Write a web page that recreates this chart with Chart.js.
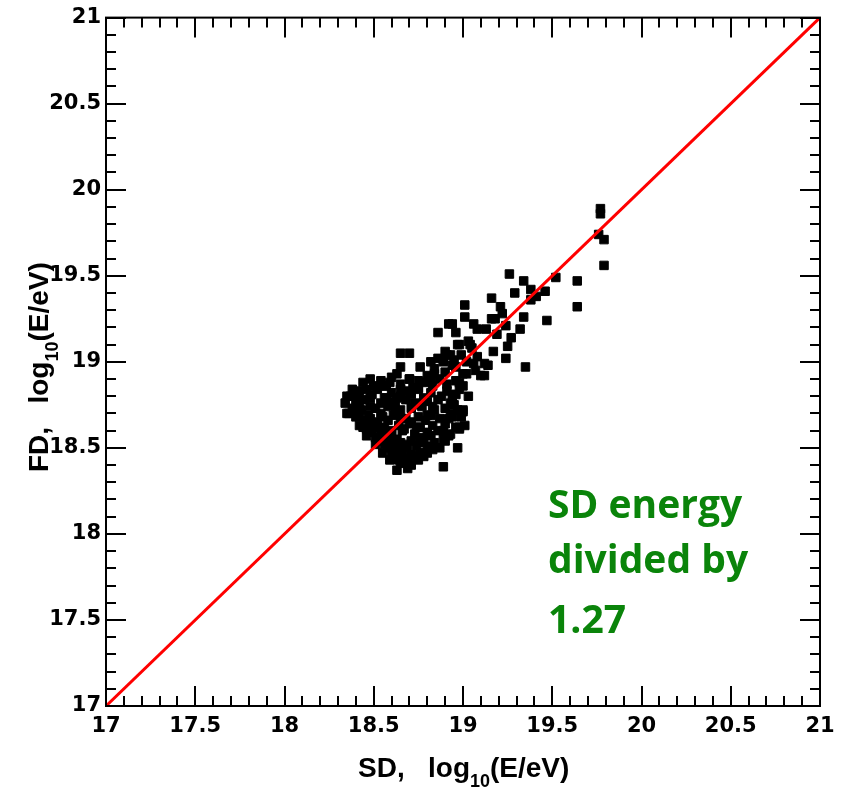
<!DOCTYPE html>
<html>
<head>
<meta charset="utf-8">
<title>SD vs FD energy</title>
<script src="https://cdn.jsdelivr.net/npm/chart.js@4.4.1/dist/chart.umd.min.js"></script>
<style>
  body { margin: 0; background: #fff; }
  canvas { display: block; }
</style>
</head>
<body>
<canvas id="energyChart" width="844" height="789"></canvas>
<script>
// SD energy (x) and FD energy (y), log10(E/eV)
var sdEnergy = [
  19.77, 19.77, 19.76, 19.79, 19.79, 19.64, 19.64, 19.52, 19.47, 19.46,
  19.41, 19.26, 19.34, 19.29, 19.38, 19.16, 19.21, 19.01, 19.01, 19.06,
  19.13, 19.18, 19.24, 19.34, 19.32, 19.27, 19.25, 19.24, 19.17, 19.12,
  19.06, 19.12, 19.35, 18.86, 18.92, 18.94, 18.96, 18.97, 19.03, 19.05,
  18.90, 18.65, 18.70, 18.65, 18.63, 18.89, 18.84, 18.82, 18.75, 19.22,
  19.16, 19.08, 19.19, 19.04, 19.10, 19.14, 19.00, 18.95, 18.91, 18.89,
  18.98, 18.80, 19.38, 18.48, 18.50, 18.38, 18.35, 18.34, 18.36, 18.46,
  18.48, 18.56, 18.65, 18.63, 18.42, 18.44, 18.46, 18.51, 18.55, 18.59,
  18.63, 18.69, 18.76, 18.80, 18.97, 18.89, 18.99, 19.00, 18.94, 18.84,
  18.82, 18.78,
  18.54, 18.59, 18.70, 18.79, 18.87, 18.96,
  18.42, 18.52, 18.60, 18.69, 18.75, 18.82, 18.91, 18.98,
  18.40, 18.45, 18.54, 18.60, 18.68, 18.73, 18.80, 18.86, 18.93,
  18.38, 18.43, 18.51, 18.58, 18.65, 18.71, 18.77, 18.84, 18.90, 18.97,
  18.40, 18.48, 18.55, 18.61, 18.68, 18.75, 18.82, 18.87, 18.94,
  18.42, 18.49, 18.56, 18.64, 18.70, 18.76, 18.83, 18.90, 18.96, 19.01,
  18.49, 18.54, 18.60, 18.66, 18.73, 18.80, 18.86, 18.93,
  18.54, 18.59, 18.65, 18.71, 18.78, 18.84, 18.90,
  18.58, 18.64, 18.69, 18.74, 18.83, 18.87,
  18.62, 18.68, 18.73,
  18.65, 18.71,
  18.82, 18.76, 18.90, 18.96, 18.93, 18.95, 19.00, 19.03, 18.98, 18.92,
  18.41, 18.44, 18.57, 18.60, 18.70, 18.72,
  18.56, 18.65, 18.75, 18.83, 18.91,
  18.37, 18.49, 18.57, 18.65, 18.71, 18.78, 18.88, 18.96,
  18.42, 18.48, 18.62, 18.75, 18.83, 18.94,
  18.35, 18.41, 18.47, 18.54, 18.62, 18.80, 18.93, 19.00,
  18.45, 18.52, 18.58, 18.65, 18.71, 18.79, 18.92,
  18.46, 18.52, 18.60, 18.67, 18.74, 18.89, 18.98,
  18.51, 18.57, 18.63, 18.76, 18.82, 18.89,
  18.56, 18.61, 18.68, 18.76, 18.80,
  18.60, 18.66, 18.71, 18.77,
  18.64, 18.69, 18.75,
  18.99, 19.02, 19.08, 18.94, 18.86, 19.02, 18.98, 19.07
];
var fdEnergy = [
  19.89, 19.86, 19.74, 19.71, 19.56, 19.47, 19.32, 19.49, 19.24, 19.41,
  19.38, 19.51, 19.47, 19.40, 19.36, 19.37, 19.32, 19.33, 19.26, 19.22,
  19.19, 19.25, 19.21, 19.26, 19.19, 19.14, 19.09, 19.02, 19.06, 18.99,
  18.99, 18.92, 18.97, 19.17, 19.22, 19.22, 19.17, 19.10, 19.12, 19.08,
  19.06, 19.05, 19.05, 18.97, 18.93, 19.01, 18.96, 18.91, 18.89, 19.28,
  19.25, 19.19, 19.16, 19.10, 18.92, 18.98, 18.93, 19.01, 19.04, 19.00,
  19.10, 18.92, 19.42, 18.90, 18.86, 18.84, 18.80, 18.76, 18.70, 18.84,
  18.79, 18.79, 18.84, 18.79, 18.68, 18.62, 18.57, 18.52, 18.47, 18.43,
  18.37, 18.38, 18.47, 18.47, 18.50, 18.39, 18.68, 18.86, 18.81, 18.93,
  18.50, 18.45,
  18.89, 18.88, 18.90, 18.88, 18.90, 18.89,
  18.83, 18.84, 18.82, 18.83, 18.84, 18.82, 18.83, 18.84,
  18.77, 18.78, 18.76, 18.77, 18.78, 18.76, 18.77, 18.78, 18.76,
  18.73, 18.72, 18.73, 18.74, 18.72, 18.73, 18.74, 18.72, 18.73, 18.72,
  18.68, 18.67, 18.68, 18.69, 18.67, 18.68, 18.69, 18.67, 18.68,
  18.63, 18.64, 18.62, 18.63, 18.64, 18.62, 18.63, 18.64, 18.62, 18.63,
  18.59, 18.58, 18.59, 18.60, 18.58, 18.59, 18.60, 18.58,
  18.54, 18.55, 18.53, 18.54, 18.55, 18.53, 18.54,
  18.50, 18.49, 18.50, 18.51, 18.49, 18.50,
  18.45, 18.44, 18.45,
  18.41, 18.40,
  19.00, 18.97, 18.94, 18.97, 19.04, 18.75, 18.72, 18.80, 18.62, 18.57,
  18.80, 18.88, 18.86, 18.91, 18.90, 18.85,
  18.86, 18.87, 18.85, 18.86, 18.87,
  18.80, 18.81, 18.79, 18.80, 18.81, 18.79, 18.80, 18.81,
  18.75, 18.74, 18.76, 18.75, 18.74, 18.76,
  18.70, 18.71, 18.69, 18.70, 18.71, 18.69, 18.70, 18.71,
  18.66, 18.65, 18.66, 18.67, 18.65, 18.66, 18.67,
  18.61, 18.62, 18.60, 18.61, 18.62, 18.60, 18.61,
  18.56, 18.57, 18.55, 18.56, 18.57, 18.55,
  18.52, 18.51, 18.52, 18.53, 18.51,
  18.47, 18.48, 18.46, 18.47,
  18.43, 18.42, 18.43,
  19.04, 19.00, 19.03, 18.98, 19.02, 18.93, 18.88, 18.95
];
// SD = FD reference line
var lineSD = [17, 21];
var lineFD = [17, 21];

var axisMin = 17;
var axisMax = 21;
var tickStep = 0.5;
var minorStep = 0.1;

var noteLines = ['SD energy', 'divided by', '1.27'];

var tickFont = { family: 'DejaVu Sans', size: 21, weight: 'bold' };

// frame with inward ticks on all four sides, ROOT style
var frameTicks = {
  id: 'frameTicks',
  afterDatasetsDraw: function(chart) {
    var ctx = chart.ctx;
    var a = chart.chartArea;
    var xs = chart.scales.x, ys = chart.scales.y;
    ctx.save();
    ctx.strokeStyle = '#000';
    ctx.lineWidth = 2;
    ctx.strokeRect(a.left, a.top, a.right - a.left, a.bottom - a.top);
    var n = Math.round((axisMax - axisMin) / minorStep);
    ctx.beginPath();
    for (var i = 0; i <= n; i++) {
      var v = axisMin + i * minorStep;
      var len = (i % 5 === 0) ? 20 : 10;
      var px = Math.round(xs.getPixelForValue(v));
      var py = Math.round(ys.getPixelForValue(v));
      ctx.moveTo(px, a.bottom); ctx.lineTo(px, a.bottom - len);
      ctx.moveTo(px, a.top); ctx.lineTo(px, a.top + len);
      ctx.moveTo(a.left, py); ctx.lineTo(a.left + len, py);
      ctx.moveTo(a.right, py); ctx.lineTo(a.right - len, py);
    }
    ctx.stroke();
    ctx.restore();
  }
};

// axis titles with subscript, and the green note
var titlesAndNote = {
  id: 'titlesAndNote',
  afterDraw: function(chart) {
    var ctx = chart.ctx;
    ctx.save();
    ctx.fillStyle = '#000';
    ctx.textBaseline = 'alphabetic';
    ctx.textAlign = 'left';

    function drawTitle(main, x0, y0) {
      ctx.font = 'bold 28px "Liberation Sans", Arial, sans-serif';
      ctx.fillText(main, x0, y0);
      var w = ctx.measureText(main).width;
      ctx.font = 'bold 18px "Liberation Sans", Arial, sans-serif';
      ctx.fillText('10', x0 + w, y0 + 10);
      var w2 = ctx.measureText('10').width;
      ctx.font = 'bold 28px "Liberation Sans", Arial, sans-serif';
      ctx.fillText('(E/eV)', x0 + w + w2, y0);
    }

    drawTitle('SD,   log', 358, 777);

    ctx.save();
    ctx.translate(48, 472);
    ctx.rotate(-Math.PI / 2);
    drawTitle('FD,   log', 0, 0);
    ctx.restore();

    ctx.fillStyle = '#0a840a';
    ctx.font = 'bold 39px "Open Sans", sans-serif';
    var baselines = [518, 573, 633];
    for (var i = 0; i < noteLines.length; i++) {
      ctx.fillText(noteLines[i], 548, baselines[i]);
    }
    ctx.restore();
  }
};

var points = sdEnergy.map(function(x, i) {
  return { x: x, y: fdEnergy[i] };
});
var linePoints = lineSD.map(function(x, i) {
  return { x: x, y: lineFD[i] };
});

function tickLabel(value) {
  return String(Math.round(value * 10) / 10);
}

var ctx = document.getElementById('energyChart');
var chart = new Chart(ctx, {
  type: 'scatter',
  data: {
    datasets: [{
      type: 'line',
      label: 'SD = FD',
      data: linePoints,
      borderColor: '#ff0000',
      borderWidth: 3,
      pointRadius: 0,
      fill: false,
      order: 0
    }, {
      label: 'events',
      data: points,
      pointStyle: 'rect',
      pointRadius: 6,
      borderWidth: 1,
      borderColor: '#000',
      backgroundColor: '#000',
      order: 1
    }]
  },
  options: {
    responsive: false,
    animation: false,
    layout: {
      padding: { top: 16, right: 24, left: 0, bottom: 0 }
    },
    plugins: {
      legend: { display: false },
      tooltip: { enabled: false }
    },
    scales: {
      x: {
        type: 'linear',
        min: axisMin,
        max: axisMax,
        ticks: {
          stepSize: tickStep,
          font: tickFont,
          color: '#000',
          padding: 8,
          maxRotation: 0,
          callback: tickLabel
        },
        grid: { display: false, drawTicks: false },
        border: { display: false },
        afterFit: function(scale) { scale.height = 83; }
      },
      y: {
        type: 'linear',
        min: axisMin,
        max: axisMax,
        ticks: {
          stepSize: tickStep,
          font: tickFont,
          color: '#000',
          padding: 5,
          callback: tickLabel
        },
        grid: { display: false, drawTicks: false },
        border: { display: false },
        afterFit: function(scale) { scale.width = 106; }
      }
    }
  },
  plugins: [frameTicks, titlesAndNote]
});
</script>
</body>
</html>
